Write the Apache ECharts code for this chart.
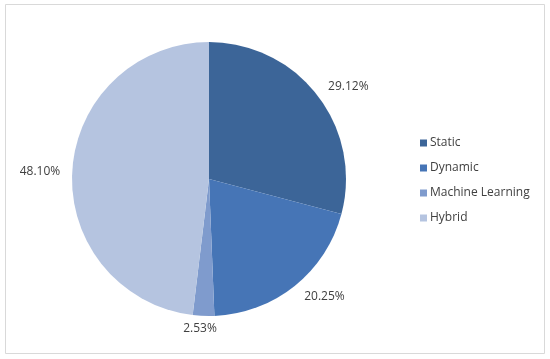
<!DOCTYPE html>
<html>
<head>
<meta charset="utf-8">
<script src="https://cdn.jsdelivr.net/npm/echarts@6/dist/echarts.min.js"></script>
<style>html,body{margin:0;padding:0;background:#fff;}#c{width:550px;height:359px;}</style>
</head>
<body>
<div id="c"></div>
<script>
var categories = ['Static', 'Dynamic', 'Machine Learning', 'Hybrid'];
var values = [29.12, 20.25, 2.53, 48.10];
var colors = ['#3C6598', '#4675B6', '#7F9BCD', '#B5C4E0'];

var chart = echarts.init(document.getElementById('c'), null, {renderer: 'canvas'});
chart.setOption({
  animation: false,
  color: colors,
  graphic: [{
    type: 'rect', z: -1,
    shape: {x: 5.5, y: 4.5, width: 539, height: 349},
    style: {fill: '#fff', stroke: '#d9d9d9', lineWidth: 1}
  }],
  legend: {
    orient: 'vertical',
    left: 415, top: 132,
    itemWidth: 7, itemHeight: 7, itemGap: 13,
    icon: 'rect',
    textStyle: {fontFamily: 'Open Sans', fontSize: 12, color: '#404040', padding: [0, 0, 0, -2]},
    data: categories
  },
  series: [{
    type: 'pie',
    center: [209, 179],
    radius: 137,
    startAngle: 90,
    clockwise: true,
    data: categories.map(function (c, i) { return {name: c, value: values[i]}; }),
    label: {
      show: true,
      position: 'outside',
      formatter: function (p) { return p.value.toFixed(2) + '%'; },
      fontFamily: 'Open Sans', fontSize: 12, color: '#404040'
    },
    labelLayout: function (p) {
      var adj = [[-4, -2], [-3, 1], [p.labelRect.width / 2 + 2, 1], [5, 1]];
      return {dx: adj[p.dataIndex][0], dy: adj[p.dataIndex][1]};
    },
    labelLine: {show: false, length: 12, length2: 0},
    itemStyle: {borderWidth: 0}
  }]
});
</script>
</body>
</html>
